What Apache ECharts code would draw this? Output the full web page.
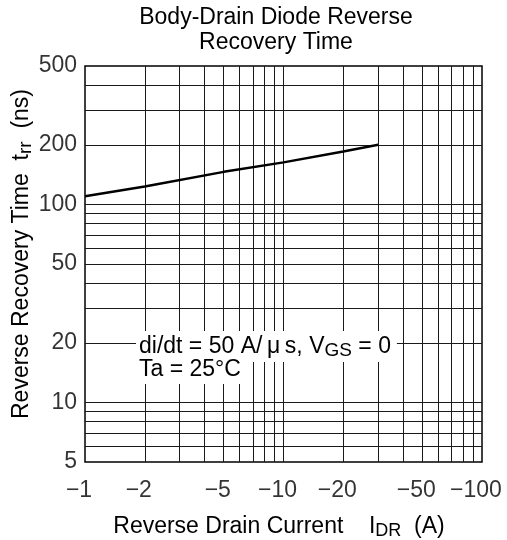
<!DOCTYPE html>
<html>
<head>
<meta charset="utf-8">
<script src="https://cdn.jsdelivr.net/npm/echarts@6/dist/echarts.min.js"></script>
<style>
html,body{margin:0;padding:0;background:#fff;}
#chart{width:507px;height:540px;}
</style>
</head>
<body>
<div id="chart"></div>
<script>
// ---- data ----
const current = [1, 2, 5, 10, 20, 30];          // |I_DR| (A)
const trr = [110, 123, 146, 163, 185, 200];     // t_rr (ns)
const xTickValues = [1, 2, 5, 10, 20, 50, 100];
const yTickValues = [5, 10, 20, 50, 100, 200, 500];
const xGridValues = [2, 3, 4, 5, 6, 7, 8, 9, 10, 20, 30, 40, 50, 60, 70, 80, 90];
const yGridValues = [6, 7, 8, 9, 10, 20, 30, 40, 50, 60, 70, 80, 90, 100, 200, 300, 400];

const FONT = 'Liberation Sans, Arial, sans-serif';
const INK = '#000';
const chart = echarts.init(document.getElementById('chart'));

const gridMarks = xGridValues.map(v => ({ xAxis: v }))
  .concat(yGridValues.map(v => ({ yAxis: v })));

chart.setOption({
  animation: false,
  backgroundColor: '#fff',
  title: {
    text: 'Body-Drain Diode Reverse\nRecovery Time',
    left: 276,
    textAlign: 'center',
    top: 5,
    padding: 0,
    textStyle: { fontFamily: FONT, fontSize: 23, fontWeight: 'normal', color: INK, lineHeight: 25 }
  },
  grid: {
    left: 85, right: 25, top: 66, bottom: 78,
    outerBoundsMode: 'none', containLabel: false,
    show: true, borderColor: '#000', borderWidth: 1.5, backgroundColor: 'transparent'
  },
  xAxis: {
    type: 'log', logBase: 10, min: 1, max: 100,
    axisLine: { show: false }, axisTick: { show: false },
    axisLabel: { show: false }, splitLine: { show: false },
    name: '{a|Reverse Drain Current    I}{sub|DR}{a|  (A)}',
    nameLocation: 'middle', nameGap: 52,
    nameTextStyle: {
      padding: [0, 9, 0, 0],
      rich: {
        a: { fontFamily: FONT, fontSize: 23, color: INK },
        sub: { fontFamily: FONT, fontSize: 18, color: INK, padding: [8, 0, 0, 0] }
      }
    }
  },
  yAxis: {
    type: 'log', logBase: 10, min: 5, max: 500,
    axisLine: { show: false }, axisTick: { show: false },
    axisLabel: { show: false }, splitLine: { show: false },
    name: '{a|Reverse Recovery Time  t}{sub|rr}{a|  (ns)}',
    nameLocation: 'middle', nameGap: 50, nameRotate: 90,
    nameTextStyle: {
      padding: [0, 0, 0, 20],
      rich: {
        a: { fontFamily: FONT, fontSize: 23, color: INK },
        sub: { fontFamily: FONT, fontSize: 19, color: INK, padding: [7, 0, 0, 0] }
      }
    }
  },
  series: [
    {
      type: 'line', data: [], silent: true, z: 1,
      markLine: {
        silent: true, symbol: ['none', 'none'],
        label: { show: false },
        emphasis: { disabled: true },
        lineStyle: { color: '#1a1a1a', width: 1, type: 'solid' },
        data: gridMarks
      }
    },
    {
      type: 'line', z: 5,
      data: current.map((c, i) => [c, trr[i]]),
      showSymbol: false, symbol: 'none',
      lineStyle: { color: '#000', width: 2.5 },
      emphasis: { disabled: true }, silent: true
    },
    {
      type: 'scatter', silent: true, clip: false, symbolSize: 0,
      data: xTickValues.map(v => [v, 5]),
      label: {
        show: true, position: 'bottom', distance: 17, offset: [-6, 0],
        formatter: p => '\u2212' + p.value[0],
        fontFamily: FONT, fontSize: 23, color: INK
      }
    },
    {
      type: 'scatter', silent: true, clip: false, symbolSize: 0,
      data: yTickValues.map(v => [1, v]),
      label: {
        show: true, position: 'left', distance: 8,
        formatter: p => String(p.value[1]),
        fontFamily: FONT, fontSize: 23, color: INK
      }
    }
  ]
});

// annotation (white-backed text boxes over the grid)
chart.setOption({
  graphic: [
    {
      type: 'text', left: 136, top: 331, z: 100,
      style: {
        text: '{a|di/dt = 50 A/\u2009\u03bc\u2009s, V}{sub|GS}{a| = 0}',
        backgroundColor: '#fff', padding: [2, 6, 2, 3],
        rich: {
          a: { fontFamily: FONT, fontSize: 23, fill: INK, lineHeight: 25 },
          sub: { fontFamily: FONT, fontSize: 19, fill: INK, padding: [8, 0, 0, 0] }
        }
      }
    },
    {
      type: 'text', left: 136, top: 357, z: 100,
      style: {
        text: 'Ta = 25\u00b0C',
        backgroundColor: '#fff', padding: [0, 6, 2, 3],
        font: '23px ' + FONT, fill: INK, lineHeight: 25
      }
    }
  ]
});
</script>
</body>
</html>
